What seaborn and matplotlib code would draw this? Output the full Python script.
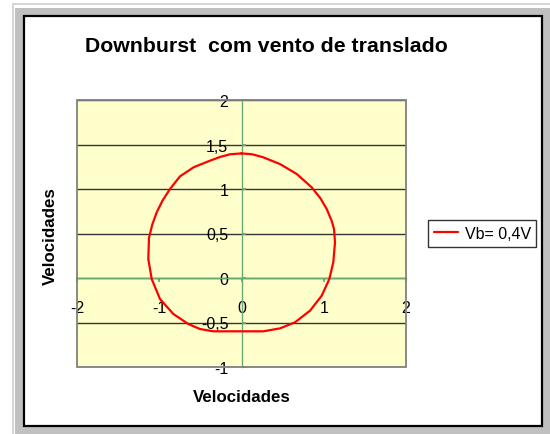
import matplotlib
matplotlib.use("Agg")
import matplotlib.pyplot as plt
from matplotlib.patches import Rectangle
import seaborn as sns
import pandas as pd

# ---- data ----
curve_x = [0.0, 0.13, 0.265, 0.468, 0.671, 0.853, 0.96, 1.036, 1.097, 1.125, 1.137, 1.116,
           1.068, 0.975, 0.833, 0.65, 0.468, 0.265, -0.343, -0.505, -0.647, -0.829, -0.991,
           -1.092, -1.133, -1.125, -1.085, -1.031, -0.96, -0.869, -0.748, -0.58, -0.383,
           -0.26, -0.14, 0.0]
curve_y = [1.40, 1.39, 1.356, 1.28, 1.169, 1.019, 0.895, 0.775, 0.64, 0.55, 0.40, 0.176,
           -0.011, -0.199, -0.367, -0.498, -0.566, -0.599, -0.599, -0.573, -0.517, -0.404,
           -0.236, -0.011, 0.213, 0.45, 0.60, 0.738, 0.87, 1.0, 1.142, 1.245, 1.318,
           1.36, 1.39, 1.40]
series_name = "Vb= 0,4V"
x_ticks = [-2, -1, 0, 1, 2]
x_tick_labels = ["-2", "-1", "0", "1", "2"]
y_ticks = [-1, -0.5, 0, 0.5, 1, 1.5, 2]
y_tick_labels = ["-1", "-0,5", "0", "0,5", "1", "1,5", "2"]
title = "Downburst  com vento de translado"
x_label = "Velocidades"
y_label = "Velocidades"

df = pd.DataFrame({"x": curve_x, "y": curve_y})

sns.set_theme(style="white")
plt.rcParams["font.family"] = ["Liberation Sans", "DejaVu Sans"]
plt.rcParams["axes.unicode_minus"] = False
plt.rcParams["text.color"] = "black"
plt.rcParams["xtick.color"] = "black"
plt.rcParams["ytick.color"] = "black"

W, H = 550, 435
fig = plt.figure(figsize=(W / 100, H / 100), dpi=100)
fig.patch.set_facecolor("white")


def frect(x0, y0, x1, y1, **kw):
    r = Rectangle((x0 / W, 1 - y1 / H), (x1 - x0) / W, (y1 - y0) / H,
                  transform=fig.transFigure, zorder=-5, **kw)
    fig.patches.append(r)


# window-like frame
frect(12, 4, 550, 435, facecolor="#d6d6d6", edgecolor="none")
frect(13.5, 5.5, 550, 435, facecolor="white", edgecolor="none")
frect(15, 8.5, 550, 435, facecolor="#c0c0c0", edgecolor="none")
frect(23.5, 16.5, 541.5, 426.5, facecolor="white", edgecolor="black", linewidth=1.6)

# plot area
ax = fig.add_axes([77 / W, 1 - 368 / H, (406 - 77) / W, (368 - 101) / H])
ax.set_zorder(2)
ax.set_facecolor("#FFFFCC")

sns.lineplot(data=df, x="x", y="y", sort=False, estimator=None, color="#FF0000",
             linewidth=1.6, label=series_name, ax=ax, zorder=3)
for ln in ax.get_lines():
    ln.set_solid_joinstyle("round")

ax.set_xlim(-2, 2)
ax.set_ylim(-1, 2)
ax.set_xticks(x_ticks)
ax.set_xticklabels(x_tick_labels)
ax.set_yticks(y_ticks)
ax.set_yticklabels(y_tick_labels)

green = "#6aa878"
for s in ["top", "right"]:
    ax.spines[s].set_visible(False)
ax.spines["left"].set_position(("data", 0))
ax.spines["bottom"].set_position(("data", 0))
ax.spines["left"].set_color(green)
ax.spines["bottom"].set_color(green)
ax.spines["left"].set_linewidth(1.0)
ax.spines["bottom"].set_linewidth(1.0)

ax.yaxis.grid(True, color="#333333", linewidth=1.0)
ax.xaxis.grid(False)

ax.tick_params(axis="x", direction="out", length=3, color=green, pad=12.5,
               labelsize=11.5, labelcolor="black", bottom=True)
ax.tick_params(axis="y", direction="in", length=3, color=green, pad=9.5,
               labelsize=11.5, labelcolor="black", left=True)
ax.set_xlabel("")
ax.set_ylabel("")

# gray border of plot area
ax.add_patch(Rectangle((0, 0), 1, 1, transform=ax.transAxes, fill=False,
                       edgecolor="#808080", linewidth=1.3, zorder=4, clip_on=False))

# legend
leg = ax.legend(loc="center left", bbox_to_anchor=(428 / W, 1 - 234.5 / H),
                bbox_transform=fig.transFigure, frameon=True, fancybox=False,
                fontsize=11.5, handlelength=1.5, handletextpad=0.45,
                borderpad=0.35, borderaxespad=0)
leg.get_frame().set_edgecolor("black")
leg.get_frame().set_linewidth(1.0)
leg.get_frame().set_facecolor("white")
for t in leg.get_texts():
    t.set_color("black")

# titles
fig.text(266.5 / W, 1 - 47 / H, title, ha="center", va="center",
         fontsize=15.3, fontweight="bold", color="black")
fig.text(241.7 / W, 1 - 398 / H, x_label, ha="center", va="center",
         fontsize=12.2, fontweight="bold", color="black")
fig.text(50 / W, 1 - 236 / H, y_label, ha="center", va="center", rotation=90,
         fontsize=12.2, fontweight="bold", color="black")

fig.savefig("out.png", dpi=100)
